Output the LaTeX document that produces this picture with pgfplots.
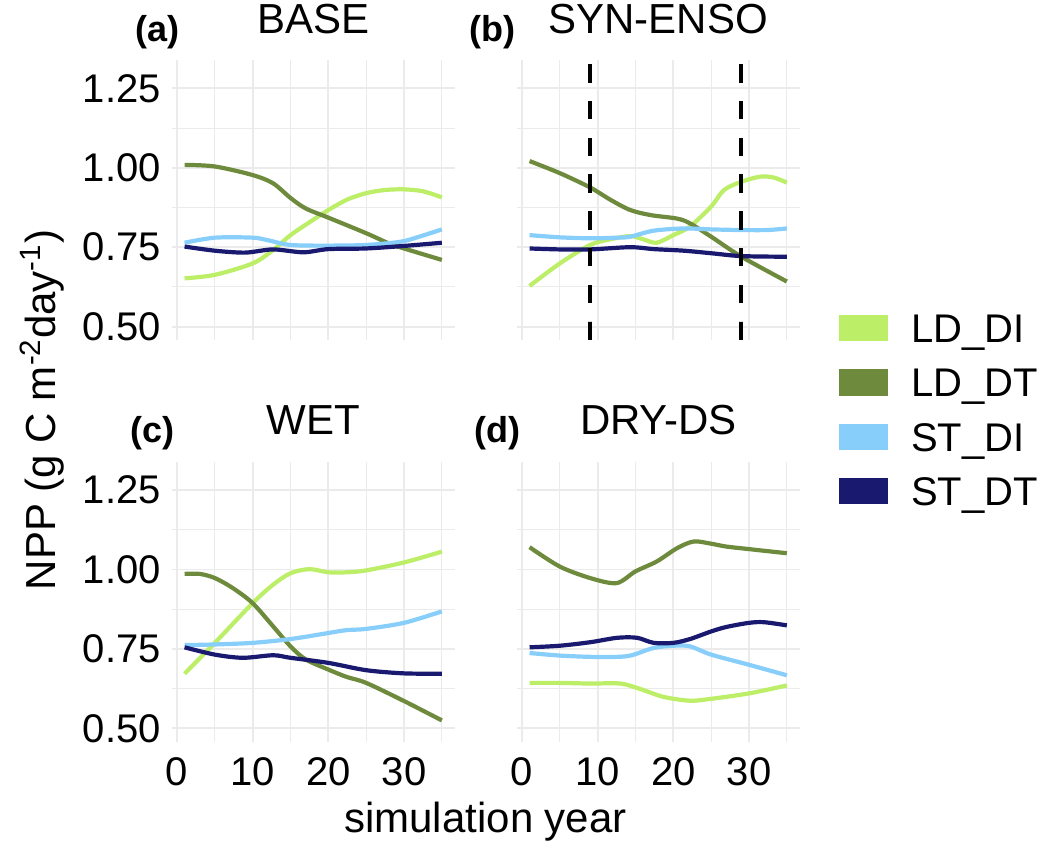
\documentclass[border=0pt]{standalone}
\usepackage{fontspec}
\setmainfont{Liberation Sans}
\usepackage{pgfplots}
\pgfplotsset{compat=1.18}
\definecolor{ldDI}{HTML}{BCEE68}
\definecolor{ldDT}{HTML}{6E8B3D}
\definecolor{stDI}{HTML}{87CEFA}
\definecolor{stDT}{HTML}{191970}
\definecolor{gridc}{HTML}{EBEBEB}
\pgfplotsset{
 panel/.style={
  scale only axis, width=141.5pt, height=140pt,
  xmin=-0.7, xmax=36.7, ymin=0.458, ymax=1.339,
  xtick={0,10,20,30}, minor xtick={5,15,25,35},
  ytick={0.5,0.75,1,1.25}, minor ytick={0.625,0.875,1.125},
  grid=both,
  major grid style={color=gridc, line width=0.9pt},
  minor grid style={color=gridc, line width=0.5pt},
  axis line style={draw=none},
  major tick length=0pt, minor tick length=0pt,
  tick style={draw=none},
  xticklabels={0,10,20,30}, yticklabels={0.50,0.75,1.00,1.25},
  /pgf/number format/assume math mode=true,
  yticklabel style={inner sep=0pt, anchor=east, xshift=-5.3pt},
  xticklabel style={inner sep=0pt, anchor=north, yshift=-7.5pt},
  ticklabel style={font=\fontsize{20}{24}\selectfont},
  title style={at={(0.5,1)}, anchor=base, yshift=7.5pt, inner sep=0pt, font=\fontsize{21}{25}\selectfont},
  every axis plot/.append style={line width=2.1pt, smooth},
 },
 noxlabels/.style={xticklabel style={text opacity=0}},
 noylabels/.style={yticklabel style={text opacity=0}},
 tag/.style 2 args={after end axis/.code={\node[anchor=base, inner sep=0pt, font=\bfseries\fontsize{18}{20}\selectfont] at (axis description cs:#1,1) [yshift=9.5pt] {#2};}},
}
\begin{document}
\begin{tikzpicture}
\useasboundingbox (0,0) rectangle (521pt,420.5pt);
% (a) BASE
\begin{axis}[panel, at={(85.85pt,250.5pt)}, anchor=south west, title={BASE}, noxlabels,
  tag={-0.0502}{(a)},
  ylabel={NPP (g C m\textsuperscript{-2}day\textsuperscript{-1})},
  ylabel style={at={(axis description cs:-0.458,-0.25)}, anchor=center, inner sep=0pt, font=\fontsize{21}{25}\selectfont}]
\addplot[ldDI] coordinates {(1,0.652)(5,0.663)(10,0.699)(12.7,0.741)(15,0.788)(17.6,0.830)(20,0.867)(22.5,0.900)(25,0.920)(27.5,0.930)(30,0.932)(32.5,0.926)(35,0.907)};
\addplot[ldDT] coordinates {(1,1.009)(5,1.004)(10,0.977)(12.7,0.951)(15,0.905)(17,0.872)(20,0.843)(25,0.794)(28,0.762)(30,0.746)(35,0.710)};
\addplot[stDI] coordinates {(1,0.764)(5,0.780)(10,0.780)(12,0.772)(15,0.757)(20,0.755)(25,0.757)(29.5,0.767)(32,0.783)(35,0.806)};
\addplot[stDT] coordinates {(1,0.752)(5,0.739)(9,0.733)(12.7,0.743)(16.7,0.734)(20,0.744)(25,0.746)(30,0.754)(35,0.764)};
\end{axis}
% (b) SYN-ENSO
\begin{axis}[panel, at={(258.35pt,250.5pt)}, anchor=south west, title={SYN-ENSO}, noxlabels, noylabels,
  tag={-0.0855}{(b)},
  legend cell align=left,
  legend image code/.code={\fill[#1] (0pt,-5.5pt) rectangle (22pt,5.5pt);},
  legend style={at={(axis description cs:1.1399,0.0929)}, anchor=north west, draw=none, fill=none,
    inner sep=0pt, outer sep=0pt, row sep=12.83pt, column sep=11.8pt,
    font=\fontsize{20}{24}\selectfont,
    nodes={inner sep=0pt, outer sep=0pt, text height=14.3pt, text depth=0pt}}]
\addplot[ldDI] coordinates {(1,0.628)(5,0.699)(9,0.757)(11.7,0.775)(14.3,0.785)(16,0.775)(17.8,0.764)(20,0.788)(22.2,0.815)(25,0.878)(26.7,0.930)(29,0.956)(31.5,0.972)(33.3,0.969)(35,0.953)};
\addlegendentry{LD\_DI}
\addplot[ldDT] coordinates {(1,1.021)(5,0.983)(9,0.938)(11.7,0.899)(14.3,0.867)(17,0.851)(20.5,0.840)(22.2,0.825)(25,0.783)(29,0.720)(35,0.642)};
\addlegendentry{LD\_DT}
\addplot[stDI] coordinates {(1,0.788)(5,0.781)(9,0.778)(12.6,0.780)(14.3,0.783)(17.4,0.802)(21.4,0.809)(25,0.806)(29,0.804)(32.4,0.804)(35,0.809)};
\addlegendentry{ST\_DI}
\addplot[stDT] coordinates {(1,0.746)(5,0.743)(9,0.743)(14.3,0.750)(17.4,0.744)(21.4,0.739)(25,0.731)(29,0.722)(35,0.720)};
\addlegendentry{ST\_DT}
\addplot[black, line width=2pt, dash pattern=on 9.2pt off 9.2pt, forget plot] coordinates {(9,0.458)(9,1.339)};
\addplot[black, line width=2pt, dash pattern=on 9.2pt off 9.2pt, forget plot] coordinates {(29,0.458)(29,1.339)};
\end{axis}
% (c) WET
\begin{axis}[panel, at={(85.85pt,49.65pt)}, anchor=south west, title={WET},
  tag={-0.0678}{(c)},
  xlabel={simulation year},
  xlabel style={at={(axis description cs:1.109,0)}, anchor=base, yshift=-45.15pt, inner sep=0pt, font=\fontsize{21}{25}\selectfont}]
\addplot[ldDI] coordinates {(1,0.672)(5,0.769)(10,0.894)(12.7,0.952)(15,0.988)(17.5,1.001)(20,0.991)(22.4,0.991)(25,0.997)(30,1.022)(35,1.056)};
\addplot[ldDT] coordinates {(1,0.986)(3,0.986)(5,0.973)(7.4,0.941)(10,0.894)(12.7,0.821)(15,0.758)(17,0.717)(20,0.685)(22.4,0.662)(25,0.643)(30,0.586)(35,0.525)};
\addplot[stDI] coordinates {(1,0.762)(5,0.764)(10,0.769)(15,0.781)(20,0.800)(22.4,0.809)(25,0.813)(30,0.832)(35,0.868)};
\addplot[stDT] coordinates {(1,0.755)(5,0.732)(8.7,0.722)(12.7,0.730)(15,0.722)(20,0.706)(25,0.683)(30,0.673)(35,0.672)};
\end{axis}
% (d) DRY-DS
\begin{axis}[panel, at={(258.35pt,49.65pt)}, anchor=south west, title={DRY-DS}, noylabels,
  tag={-0.0678}{(d)}]
\addplot[ldDI] coordinates {(1,0.643)(5,0.643)(9,0.641)(13,0.641)(15.6,0.624)(18.7,0.599)(22.2,0.587)(25,0.593)(30,0.610)(35,0.635)};
\addplot[ldDT] coordinates {(1,1.070)(5,1.009)(9,0.973)(12.5,0.957)(15,0.994)(17.8,1.025)(20.5,1.067)(22.7,1.088)(25,1.081)(27,1.072)(30,1.064)(35,1.051)};
\addplot[stDI] coordinates {(1,0.737)(5,0.729)(9,0.725)(12.6,0.725)(14.5,0.730)(17.4,0.753)(20,0.760)(22.2,0.758)(25,0.732)(30,0.700)(35,0.667)};
\addplot[stDT] coordinates {(1,0.755)(5,0.760)(9,0.771)(12.6,0.785)(15.2,0.785)(17.4,0.769)(20,0.769)(22.2,0.781)(25,0.805)(27,0.819)(30,0.832)(32,0.834)(35,0.824)};
\end{axis}
\end{tikzpicture}
\end{document}
